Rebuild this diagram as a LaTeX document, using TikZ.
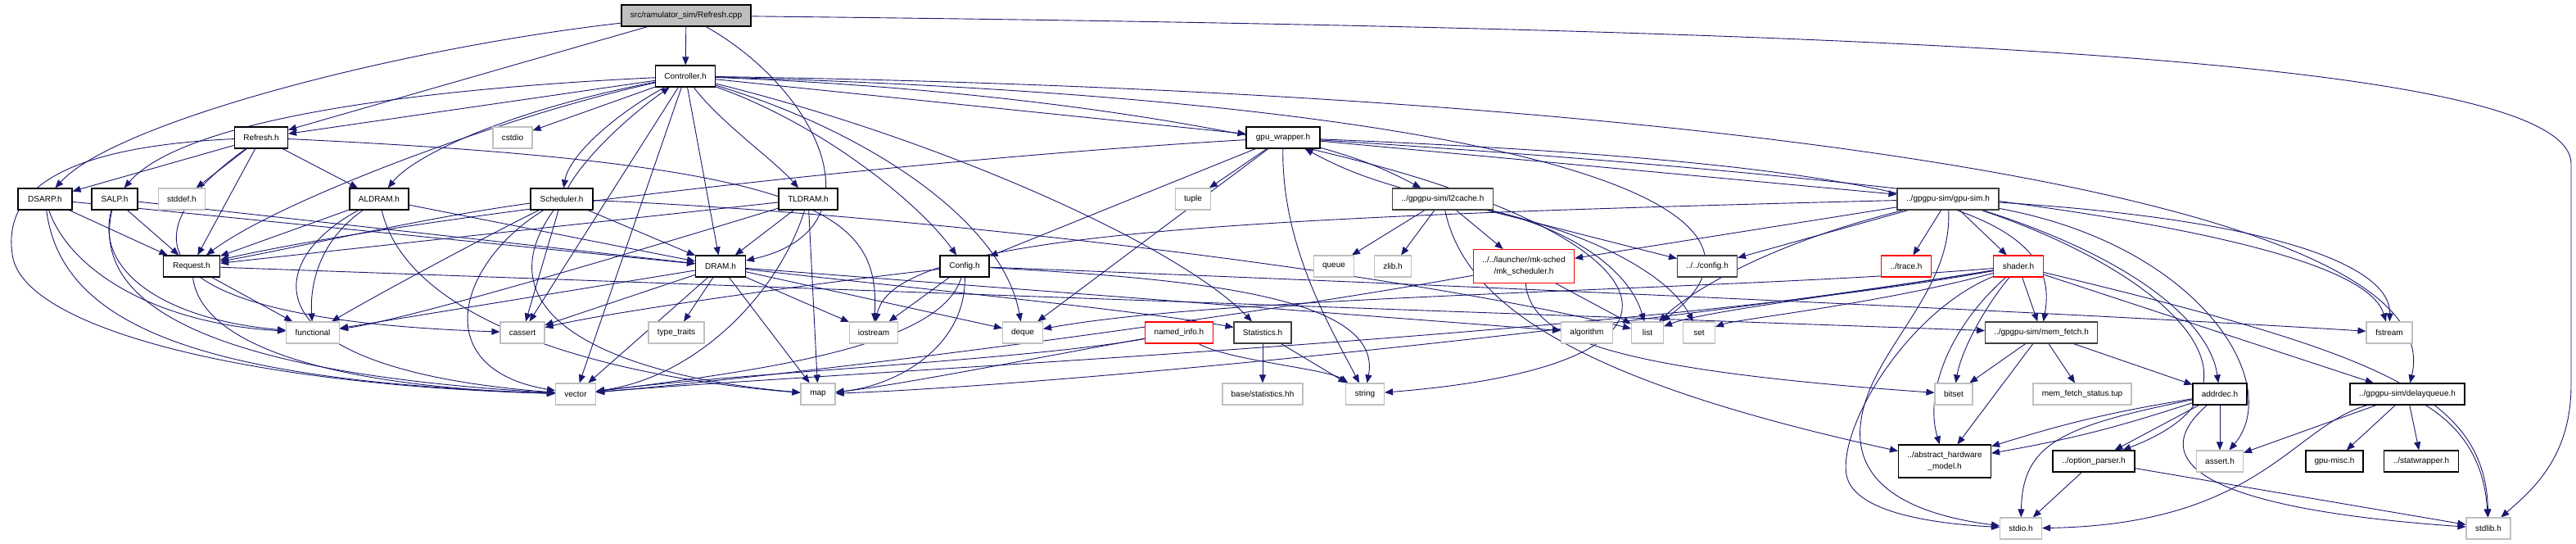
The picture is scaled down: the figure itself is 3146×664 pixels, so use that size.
\documentclass[tikz,border=0pt]{standalone}
\usepackage{fontspec}
\setmainfont{Liberation Sans}
\usetikzlibrary{arrows.meta}
\definecolor{navy}{HTML}{191970}
\definecolor{lgray}{HTML}{BFBFBF}
\definecolor{dgray}{HTML}{404040}
\pgfdeclarelayer{bg}
\pgfsetlayers{bg,main}
\tikzset{
  nd/.style={draw=black, line width=1.1pt, fill=white, font=\fontsize{10}{14}\selectfont, inner sep=0pt, minimum height=26pt, align=center},
  sys/.style={nd, draw=lgray},
  dk/.style={nd, draw=dgray},
  tr/.style={nd, draw=red},
  rootbox/.style={nd, fill=lgray},
  edg/.style={draw=navy, line width=0.9pt, -{Triangle[length=10pt,width=8pt]}},
}
\begin{document}
\begin{tikzpicture}[x=1pt,y=-1pt]
\useasboundingbox (0,0) rectangle (3146,664);
% nodes
\node[rootbox, minimum width=158pt] (root) at (838,19) {src/ramulator\_sim/Refresh.cpp};
\node[nd, minimum width=73pt] (ctrl) at (837,93) {Controller.h};
\node[nd, minimum width=65pt] (refreshh) at (319,168) {Refresh.h};
\node[sys, minimum width=48pt] (cstdio) at (626,168) {cstdio};
\node[nd, minimum width=90pt] (gpuwrap) at (1567,168) {gpu\_wrapper.h};
\node[nd, minimum width=66pt] (dsarp) at (55,243) {DSARP.h};
\node[nd, minimum width=56pt] (salp) at (140,243) {SALP.h};
\node[sys, minimum width=57pt] (stddef) at (222,243) {stddef.h};
\node[nd, minimum width=72pt] (aldram) at (463,243) {ALDRAM.h};
\node[nd, minimum width=76pt] (sched) at (686,243) {Scheduler.h};
\node[nd, minimum width=72pt] (tldram) at (987,243) {TLDRAM.h};
\node[sys, minimum width=43pt] (tuple) at (1457,243) {tuple};
\node[dk, minimum width=123pt] (l2) at (1762,243) {../gpgpu-sim/l2cache.h};
\node[dk, minimum width=124pt] (gpusim) at (2379,243) {../gpgpu-sim/gpu-sim.h};
\node[nd, minimum width=69pt] (request) at (234,325) {Request.h};
\node[nd, minimum width=61pt] (dram) at (880,325) {DRAM.h};
\node[nd, minimum width=60pt] (config) at (1178,325) {Config.h};
\node[sys, minimum width=49pt] (queue) at (1629,325) {queue};
\node[sys, minimum width=45pt] (zlib) at (1701,325) {zlib.h};
\node[tr, minimum width=123pt, minimum height=41pt] (mks) at (1861,325) {../../launcher/mk-sched\\/mk\_scheduler.h};
\node[dk, minimum width=73pt] (cfg2) at (2085,325) {../../config.h};
\node[tr, minimum width=61pt] (trace) at (2328,325) {../trace.h};
\node[tr, minimum width=61pt] (shader) at (2465,325) {shader.h};
\node[sys, minimum width=65pt] (functional) at (382,406) {functional};
\node[sys, minimum width=54pt] (cassert) at (638,406) {cassert};
\node[sys, minimum width=68pt] (typetraits) at (826,406) {type\_traits};
\node[sys, minimum width=59pt] (iostream) at (1067,406) {iostream};
\node[sys, minimum width=49pt] (deque) at (1249,406) {deque};
\node[tr, minimum width=83pt] (namedinfo) at (1440,406) {named\_info.h};
\node[dk, minimum width=70pt] (stats) at (1542,406) {Statistics.h};
\node[sys, minimum width=63pt] (algorithm) at (1938,406) {algorithm};
\node[sys, minimum width=39pt] (list) at (2012,406) {list};
\node[sys, minimum width=39pt] (set) at (2075,406) {set};
\node[dk, minimum width=137pt] (memfetch) at (2493,406) {../gpgpu-sim/mem\_fetch.h};
\node[sys, minimum width=56pt] (fstream) at (2918,406) {fstream};
\node[sys, minimum width=49pt] (vector) at (703,481) {vector};
\node[sys, minimum width=42pt] (map) at (999,481) {map};
\node[sys, minimum width=98pt] (basestats) at (1542,481) {base/statistics.hh};
\node[sys, minimum width=47pt] (string) at (1667,481) {string};
\node[sys, minimum width=46pt] (bitset) at (2386,481) {bitset};
\node[sys, minimum width=120pt] (mfst) at (2543,481) {mem\_fetch\_status.tup};
\node[nd, minimum width=66pt] (addrdec) at (2711,481) {addrdec.h};
\node[nd, minimum width=140pt] (delayq) at (2940,481) {../gpgpu-sim/delayqueue.h};
\node[nd, minimum width=113pt, minimum height=40pt] (ahm) at (2375,563) {../abstract\_hardware\\\_model.h};
\node[nd, minimum width=100pt] (optparser) at (2557,563) {../option\_parser.h};
\node[sys, minimum width=57pt] (asserth) at (2711,563) {assert.h};
\node[nd, minimum width=70pt] (gpumisc) at (2851,563) {gpu-misc.h};
\node[nd, minimum width=91pt] (statwrap) at (2957,563) {../statwrapper.h};
\node[sys, minimum width=51pt] (stdio) at (2468,645) {stdio.h};
\node[sys, minimum width=54pt] (stdlib) at (3039,645) {stdlib.h};

\begin{pgfonlayer}{bg}
\fill[white] (0,0) rectangle (3146,664);
% root
\draw[edg] (root) -- (ctrl);
\draw[edg] (root) -- (refreshh);
\draw[edg] (root) .. controls (480,60) and (140,150) .. (dsarp);
\draw[edg] (root) .. controls (1000,110) and (1080,280) .. (dram);
\draw[edg] (root) .. controls (2300,35) and (3140,70) .. (3140,200) -- (3140,470) .. controls (3140,560) and (3090,600) .. (stdlib);
% Controller.h
\draw[edg] (ctrl) -- (refreshh);
\draw[edg] (ctrl) -- (cstdio);
\draw[edg] (ctrl) .. controls (480,110) and (220,150) .. (salp);
\draw[edg] (ctrl) .. controls (620,135) and (505,190) .. (aldram);
\draw[edg] (ctrl) .. controls (620,140) and (340,245) .. (request);
\draw[edg] (ctrl) .. controls (750,140) and (695,190) .. (sched);
\draw[edg] (sched) .. controls (715,190) and (770,140) .. (ctrl);
\draw[edg] (ctrl) .. controls (880,150) and (945,195) .. (tldram);
\draw[edg] (ctrl) -- (dram);
\draw[edg] (ctrl) .. controls (1000,150) and (1120,245) .. (config);
\draw[edg] (ctrl) -- (vector);
\draw[edg] (ctrl) -- (cassert);
\draw[edg] (ctrl) .. controls (1060,160) and (1225,270) .. (deque);
\draw[edg] (ctrl) .. controls (1150,170) and (1440,300) .. (stats);
\draw[edg] (ctrl) -- (gpuwrap);
\draw[edg] (ctrl) .. controls (2000,110) and (3000,230) .. (delayq);
\draw[edg] (ctrl) .. controls (1800,120) and (2230,240) .. (list);
\draw[edg] (ctrl) .. controls (1900,135) and (2300,430) .. (string);
% Refresh.h
\draw[edg] (refreshh) -- (dsarp);
\draw[edg] (refreshh) -- (stddef);
\draw[edg] (refreshh) -- (aldram);
\draw[edg] (refreshh) -- (request);
\draw[edg] (refreshh) .. controls (150,290) and (170,390) .. (cassert);
\draw[edg] (refreshh) .. controls (1000,200) and (1075,260) .. (iostream);
\draw[edg] (refreshh) .. controls (60,180) and (5,240) .. (15,310) .. controls (25,400) and (300,470) .. (vector);
% DSARP.h
\draw[edg] (dsarp) -- (request);
\draw[edg] (dsarp) -- (dram);
\draw[edg] (dsarp) .. controls (85,330) and (190,395) .. (functional);
\draw[edg] (dsarp) .. controls (75,400) and (250,465) .. (vector);
% SALP.h
\draw[edg] (salp) -- (request);
\draw[edg] (salp) -- (dram);
\draw[edg] (salp) .. controls (115,330) and (200,390) .. (functional);
\draw[edg] (salp) .. controls (110,370) and (250,455) .. (vector);
% ALDRAM.h
\draw[edg] (aldram) -- (request);
\draw[edg] (aldram) -- (dram);
\draw[edg] (aldram) .. controls (395,290) and (378,340) .. (functional);
\draw[edg] (aldram) .. controls (320,320) and (300,450) .. (vector);
\draw[edg] (aldram) .. controls (500,400) and (760,462) .. (map);
% Scheduler.h
\draw[edg] (sched) .. controls (520,265) and (350,305) .. (request);
\draw[edg] (sched) -- (dram);
\draw[edg] (sched) .. controls (600,285) and (460,360) .. (functional);
\draw[edg] (sched) .. controls (560,320) and (520,450) .. (vector);
\draw[edg] (sched) .. controls (580,390) and (760,460) .. (map);
\draw[edg] (sched) -- (cassert);
\draw[edg] (sched) .. controls (1100,260) and (1700,330) .. (list);
% TLDRAM.h
\draw[edg] (tldram) -- (dram);
\draw[edg] (tldram) -- (request);
\draw[edg] (tldram) .. controls (800,300) and (500,390) .. (functional);
\draw[edg] (tldram) .. controls (950,360) and (850,460) .. (vector);
\draw[edg] (tldram) -- (map);
% gpu_wrapper.h
\draw[edg] (gpuwrap) .. controls (1100,195) and (500,265) .. (request);
\draw[edg] (gpuwrap) -- (config);
\draw[edg] (gpuwrap) -- (tuple);
\draw[edg] (gpuwrap) -- (deque);
\draw[edg] (gpuwrap) .. controls (1565,300) and (1625,400) .. (string);
\draw[edg] (gpuwrap) to[bend left=6] (l2);
\draw[edg] (l2) to[bend left=6] (gpuwrap);
\draw[edg] (gpuwrap) -- (gpusim);
\draw[edg] (gpuwrap) .. controls (2350,200) and (2520,260) .. (memfetch);
\draw[edg] (gpuwrap) .. controls (2300,215) and (2880,280) .. (fstream);
% Request.h
\draw[edg] (request) -- (functional);
\draw[edg] (request) .. controls (245,420) and (400,472) .. (vector);
\draw[edg] (request) -- (memfetch);
% DRAM.h
\draw[edg] (dram) -- (vector);
\draw[edg] (dram) -- (cassert);
\draw[edg] (dram) -- (functional);
\draw[edg] (dram) -- (typetraits);
\draw[edg] (dram) -- (map);
\draw[edg] (dram) -- (iostream);
\draw[edg] (dram) -- (deque);
\draw[edg] (dram) .. controls (1100,350) and (1400,380) .. (stats);
\draw[edg] (dram) -- (algorithm);
% Config.h
\draw[edg] (config) -- (iostream);
\draw[edg] (config) .. controls (1180,420) and (1100,470) .. (map);
\draw[edg] (config) .. controls (1150,420) and (950,450) .. (vector);
\draw[edg] (config) .. controls (1000,345) and (750,380) .. (cassert);
\draw[edg] (config) .. controls (1450,340) and (1690,360) .. (string);
\draw[edg] (config) .. controls (1700,345) and (2500,380) .. (fstream);
% named_info.h / Statistics.h
\draw[edg] (namedinfo) .. controls (1300,430) and (1100,470) .. (map);
\draw[edg] (namedinfo) .. controls (1250,440) and (900,455) .. (vector);
\draw[edg] (namedinfo) .. controls (1500,440) and (1620,450) .. (string);
\draw[edg] (stats) -- (basestats);
\draw[edg] (stats) -- (string);
% l2cache.h
\draw[edg] (l2) -- (queue);
\draw[edg] (l2) -- (zlib);
\draw[edg] (l2) -- (mks);
\draw[edg] (l2) -- (cfg2);
\draw[edg] (l2) .. controls (1920,280) and (1990,330) .. (list);
\draw[edg] (l2) .. controls (1960,290) and (2040,340) .. (set);
\draw[edg] (l2) .. controls (1790,380) and (1950,470) .. (ahm);
% gpu-sim.h
\draw[edg] (gpusim) -- (mks);
\draw[edg] (gpusim) -- (cfg2);
\draw[edg] (gpusim) -- (trace);
\draw[edg] (gpusim) -- (shader);
\draw[edg] (gpusim) .. controls (1500,265) and (1090,285) .. (iostream);
\draw[edg] (gpusim) .. controls (2150,300) and (2060,360) .. (list);
\draw[edg] (gpusim) .. controls (2620,320) and (2700,400) .. (addrdec);
\draw[edg] (gpusim) .. controls (2800,270) and (2920,330) .. (fstream);
\draw[edg] (gpusim) .. controls (2385,360) and (2280,430) .. (2272,520) .. controls (2265,600) and (2350,630) .. (stdio);
\draw[edg] (gpusim) .. controls (2640,330) and (2800,470) .. (optparser);
\draw[edg] (gpusim) .. controls (2690,300) and (2790,470) .. (asserth);
% shader.h
\draw[edg] (shader) -- (memfetch);
\draw[edg] (shader) .. controls (2420,380) and (2395,430) .. (bitset);
\draw[edg] (shader) .. controls (2380,400) and (2350,480) .. (ahm);
\draw[edg] (shader) .. controls (2330,380) and (2245,520) .. (2255,580) .. controls (2265,630) and (2380,640) .. (stdio);
\draw[edg] (shader) -- (delayq);
\draw[edg] (shader) .. controls (2900,430) and (3035,480) .. (stdlib);
\draw[edg] (shader) .. controls (2300,370) and (2120,390) .. (set);
\draw[edg] (shader) .. controls (2250,360) and (2080,380) .. (list);
\draw[edg] (shader) .. controls (2100,355) and (1500,360) .. (deque);
\draw[edg] (shader) .. controls (2000,400) and (1300,470) .. (map);
\draw[edg] (shader) .. controls (2000,410) and (1000,455) .. (vector);
% mem_fetch.h
\draw[edg] (memfetch) -- (bitset);
\draw[edg] (memfetch) -- (mfst);
\draw[edg] (memfetch) -- (addrdec);
\draw[edg] (memfetch) -- (ahm);
% addrdec.h
\draw[edg] (addrdec) to[bend right=4] (ahm);
\draw[edg] (addrdec) to[bend left=4] (ahm);
\draw[edg] (addrdec) -- (optparser);
\draw[edg] (addrdec) -- (asserth);
\draw[edg] (addrdec) .. controls (2520,520) and (2470,540) .. (stdio);
\draw[edg] (addrdec) .. controls (2620,560) and (2680,620) .. (stdlib);
% option_parser.h
\draw[edg] (optparser) -- (stdio);
\draw[edg] (optparser) -- (stdlib);
% delayqueue.h
\draw[edg] (delayq) -- (asserth);
\draw[edg] (delayq) .. controls (2800,520) and (2760,640) .. (stdio);
\draw[edg] (delayq) -- (gpumisc);
\draw[edg] (delayq) -- (statwrap);
\draw[edg] (delayq) .. controls (3020,530) and (3035,580) .. (stdlib);
% mk_scheduler.h
\draw[edg] (mks) .. controls (1870,410) and (1950,450) .. (bitset);
\draw[edg] (mks) -- (list);
\draw[edg] (mks) .. controls (1500,390) and (1000,455) .. (vector);
\end{pgfonlayer}
\end{tikzpicture}
\end{document}
